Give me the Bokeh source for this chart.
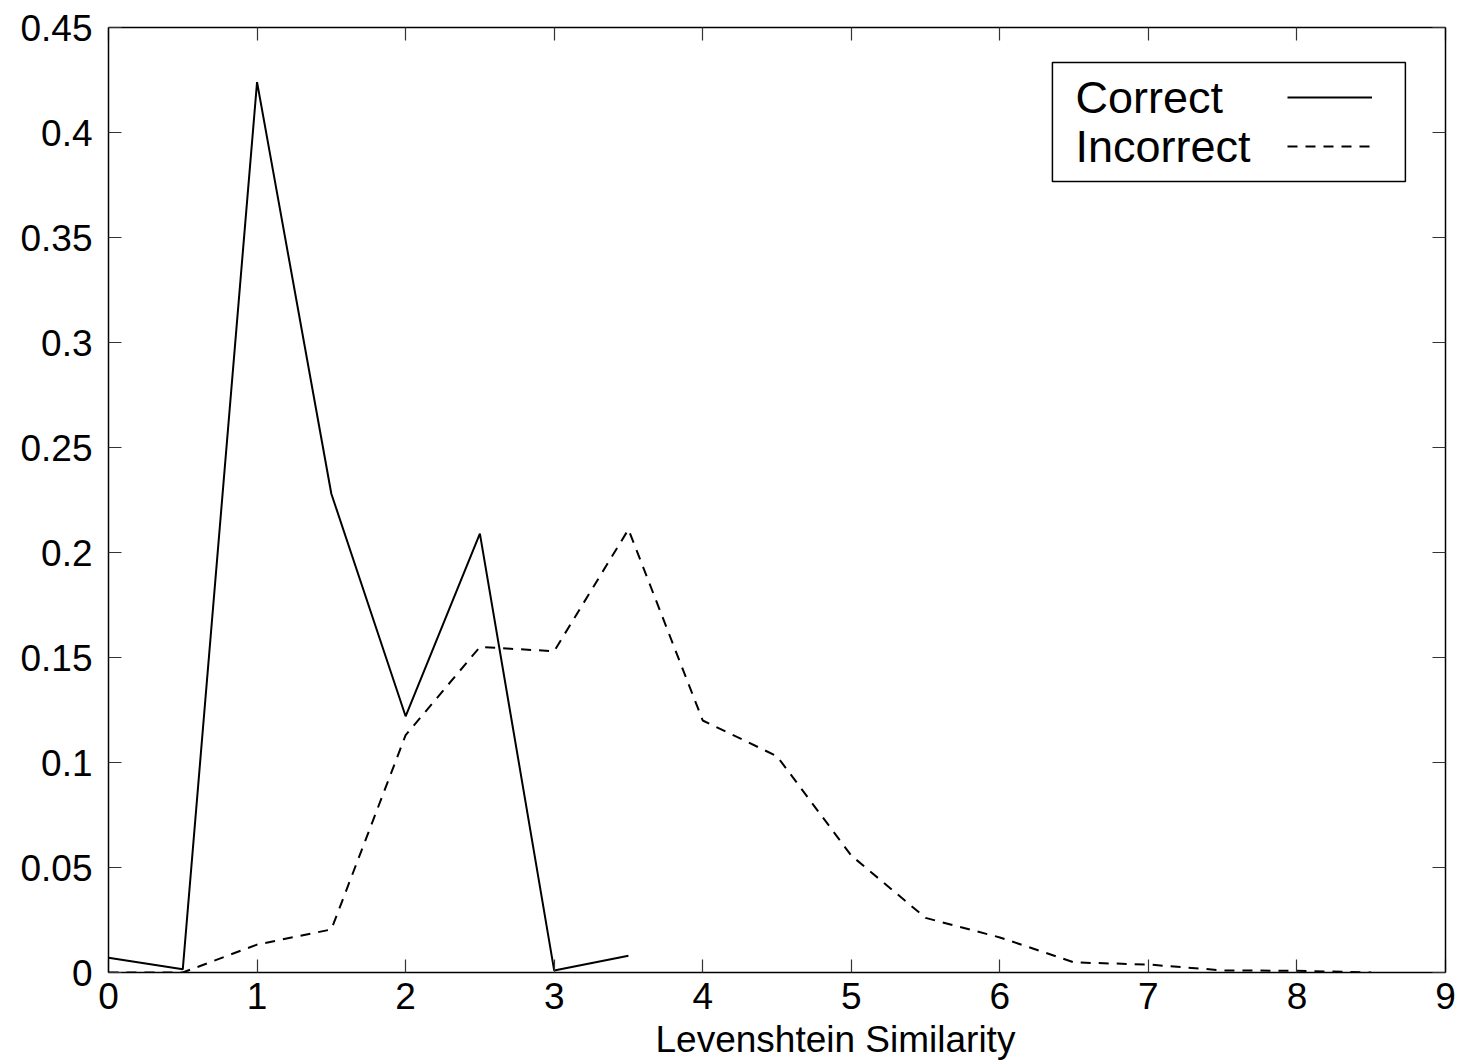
from bokeh.plotting import figure
from bokeh.models import (Range1d, LinearAxis, FixedTicker, Label, BoxAnnotation,
                          Legend, LegendItem, ColumnDataSource, Title)
from bokeh.embed import file_html
from bokeh.resources import INLINE

# ---- data ----
x_vals = [0, 0.5, 1, 1.5, 2, 2.5, 3, 3.5]
correct = [0.007, 0.0015, 0.424, 0.228, 0.122, 0.209, 0.001, 0.008]

x_inc = [0, 0.5, 1, 1.5, 2, 2.5, 3, 3.5, 4, 4.5, 5, 5.5, 6, 6.5, 7, 7.5, 8, 8.5]
incorrect = [0.0, 0.0, 0.0133, 0.0205, 0.113, 0.155, 0.153, 0.211, 0.120, 0.103,
             0.0557, 0.026, 0.0167, 0.0048, 0.0038, 0.001, 0.0008, 0.0]

x_ticks = [0, 1, 2, 3, 4, 5, 6, 7, 8, 9]
x_tick_labels = ["0", "1", "2", "3", "4", "5", "6", "7", "8", "9"]
y_ticks = [0, 0.05, 0.1, 0.15, 0.2, 0.25, 0.3, 0.35, 0.4, 0.45]
y_tick_labels = ["0", "0.05", "0.1", "0.15", "0.2", "0.25", "0.3", "0.35", "0.4", "0.45"]

series_names = ["Correct", "Incorrect"]
x_title = "Levenshtein Similarity"

FONT = "Liberation Sans"
TICK_FS = "37px"

p = figure(width=1467, height=1064, output_backend="svg", toolbar_location=None,
           x_range=Range1d(0, 9), y_range=Range1d(0, 0.45),
           min_border_left=108, min_border_right=22, min_border_top=27,
           min_border_bottom=92, x_axis_location=None, y_axis_location=None)
p.grid.visible = False
p.outline_line_color = None
p.background_fill_color = "white"
p.border_fill_color = "white"

def style_axis(ax, labels, show_labels):
    ax.axis_line_color = "black"
    ax.axis_line_width = 1.5
    ax.major_tick_line_color = "#333333"
    ax.major_tick_line_width = 1.2
    ax.major_tick_in = 13
    ax.major_tick_out = 0
    ax.minor_tick_line_color = None
    if show_labels:
        ax.major_label_text_font = FONT
        ax.major_label_text_font_size = TICK_FS
        ax.major_label_text_color = "black"
        ax.major_label_overrides = labels
    else:
        ax.major_label_text_font_size = "0px"
        ax.major_label_standoff = 0
        ax.major_label_overrides = {k: "" for k in labels}

xl = {t: s for t, s in zip(x_ticks, x_tick_labels)}
yl = {t: s for t, s in zip(y_ticks, y_tick_labels)}

xb = LinearAxis(ticker=FixedTicker(ticks=x_ticks))
style_axis(xb, xl, True)
xb.major_label_standoff = 10
p.add_layout(xb, "below")
xt = LinearAxis(ticker=FixedTicker(ticks=x_ticks))
style_axis(xt, xl, False)
p.add_layout(xt, "above")

yleft = LinearAxis(ticker=FixedTicker(ticks=y_ticks))
style_axis(yleft, yl, True)
yleft.major_label_standoff = 16
p.add_layout(yleft, "left")
yright = LinearAxis(ticker=FixedTicker(ticks=y_ticks))
style_axis(yright, yl, False)
p.add_layout(yright, "right")

src_c = ColumnDataSource(dict(x=x_vals, y=correct))
src_i = ColumnDataSource(dict(x=x_inc, y=incorrect))
r1 = p.line("x", "y", source=src_c, line_color="black", line_width=2)
r2 = p.line("x", "y", source=src_i, line_color="black", line_width=2, line_dash="10 8")

# x axis title (offset like the original)
p.add_layout(Title(text=x_title, text_font=FONT, text_font_size=TICK_FS,
                   text_font_style="normal", text_color="black",
                   align="left", offset=547, standoff=10), "below")

# legend frame, texts and samples
p.add_layout(BoxAnnotation(left=6.354, right=8.73, top=0.4333, bottom=0.3767,
                           fill_color="white", fill_alpha=1.0,
                           line_color="black", line_alpha=1.0, line_width=1.5))
for name, yy in zip(series_names, [0.4167, 0.3933]):
    p.add_layout(Label(x=6.509, y=yy, text=name, text_font=FONT,
                       text_font_size="45px", text_align="left",
                       text_baseline="alphabetic", text_color="black"))

leg = Legend(items=[LegendItem(label=" ", renderers=[r1]),
                    LegendItem(label=" ", renderers=[r2])],
             location=(1179, 814), glyph_width=85, glyph_height=24,
             label_height=24, label_width=0, label_standoff=0,
             label_text_font_size="10px", spacing=25, padding=0, margin=0,
             border_line_color=None, background_fill_alpha=0)
p.add_layout(leg, "center")

open("out.html", "w").write(file_html(p, INLINE))
